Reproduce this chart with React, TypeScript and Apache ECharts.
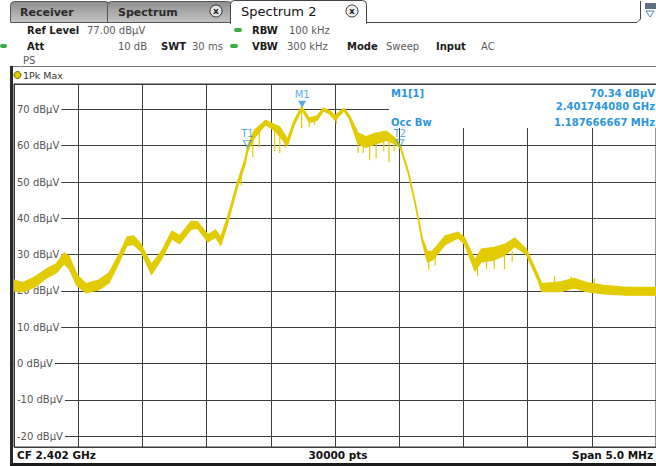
import React, { useEffect, useRef } from 'react';
import * as echarts from 'echarts';

// Frequency axis in MHz (CF 2.402 GHz, span 5 MHz)
const FREQ_MHZ = [
  2399.50, 2399.57, 2399.66, 2399.75, 2399.83, 2399.89, 2399.93, 2399.99, 2400.06, 2400.16,
  2400.24, 2400.32, 2400.38, 2400.43, 2400.49, 2400.57, 2400.65, 2400.73, 2400.79, 2400.88,
  2400.93, 2401.01, 2401.07, 2401.11, 2401.16, 2401.24, 2401.30, 2401.32, 2401.37, 2401.46,
  2401.53, 2401.57, 2401.63, 2401.68, 2401.74, 2401.80, 2401.86, 2401.91, 2401.96, 2402.00,
  2402.07, 2402.11, 2402.18, 2402.24, 2402.32, 2402.40, 2402.47, 2402.51, 2402.57, 2402.63,
  2402.68, 2402.72, 2402.76, 2402.86, 2402.96, 2403.01, 2403.09, 2403.14, 2403.24, 2403.32,
  2403.40, 2403.49, 2403.58, 2403.61, 2403.76, 2403.86, 2403.96, 2404.09, 2404.27, 2404.50,
];
// Upper envelope of the 1Pk Max trace (dBµV)
const TRACE_HI = [
  23.0, 22.3, 23.8, 26.0, 27.5, 30.5, 29.5, 24.5, 22.0, 23.0,
  25.0, 30.2, 34.8, 35.2, 32.8, 27.3, 31.0, 36.5, 35.2, 39.2,
  39.0, 35.5, 36.8, 34.8, 40.0, 50.0, 56.5, 60.0, 64.2, 67.0,
  65.8, 65.2, 61.8, 66.8, 70.8, 67.6, 68.2, 70.4, 69.6, 68.3,
  70.3, 68.5, 63.5, 62.5, 63.5, 64.0, 62.0, 60.0, 53.2, 43.6,
  34.6, 30.8, 31.0, 35.2, 36.2, 34.6, 28.5, 31.5, 32.0, 32.8,
  34.6, 31.5, 24.5, 22.0, 22.5, 23.5, 22.3, 21.5, 21.0, 21.0,
];
// Lower envelope of the trace (dBµV)
const TRACE_LO = [
  20.0, 19.8, 21.0, 23.5, 25.0, 27.5, 26.0, 21.5, 19.5, 20.3,
  22.2, 28.0, 32.5, 32.8, 30.8, 24.5, 28.8, 34.3, 33.0, 37.0,
  37.2, 33.5, 34.8, 32.5, 38.0, 48.5, 54.8, 58.5, 62.0, 65.8,
  64.2, 62.5, 60.0, 65.5, 70.0, 66.4, 67.0, 69.6, 68.7, 67.0,
  69.6, 67.5, 60.5, 59.5, 60.5, 61.5, 60.5, 59.2, 52.4, 42.8,
  33.4, 28.0, 28.5, 32.8, 34.6, 32.8, 25.5, 28.0, 28.5, 29.8,
  32.2, 30.0, 23.0, 19.8, 19.8, 20.8, 19.8, 19.2, 18.8, 18.8,
];
// Noise spikes
const SPIKE_FREQ = [
  2401.27, 2401.36, 2401.41, 2401.53, 2401.57, 2401.61, 2401.74, 2401.80, 2401.84, 2402.01,
  2402.18, 2402.22, 2402.27, 2402.32, 2402.38, 2402.42, 2402.46, 2402.73, 2402.78, 2403.11,
  2403.18, 2403.24, 2403.32, 2403.38, 2403.71, 2403.84, 2404.02,
];
const SPIKE_TOP = [
  53, 62, 64, 65, 64, 62, 70, 67, 67.5, 68,
  62, 62, 61, 62, 63, 63, 62, 29, 29.5, 27,
  29, 29, 30, 31, 24, 24, 23.5,
];
const SPIKE_BOTTOM = [
  49, 56.8, 59.5, 58.5, 58.0, 59.5, 64.8, 65, 65.8, 66,
  58, 58, 56, 56.5, 58.5, 55.5, 58.5, 25.8, 27, 24,
  26, 26, 26, 28, 20, 21, 20,
];
// Markers
const MARKER_NAMES = ['M1', 'T1', 'T2'];
const MARKER_FREQ = [2401.744, 2401.318, 2402.506];
const MARKER_LEVEL = [70.34, 59.4, 59.6];

const Y_MIN = -23;
const Y_MAX = 77;
const X_MIN = 2399.5;
const X_MAX = 2404.5;

const YELLOW = '#e2cb00';
const BLUE = '#2a96dc';
const FONT = '"DejaVu Sans", Verdana, sans-serif';

function txt(x: number, y: number, text: string, font: string, fill: string, align = 'left', z = 20) {
  return {
    type: 'text', x, y, z, silent: true,
    style: { text, font, fill, textAlign: align, textVerticalAlign: 'middle' },
  };
}

export default function App() {
  const ref = useRef<HTMLDivElement>(null);
  useEffect(() => {
    if (!ref.current) return;
    const chart = echarts.init(ref.current, undefined, { renderer: 'svg' });

    const bold10 = `bold 10px ${FONT}`;
    const norm10 = `10px ${FONT}`;

    const graphics: any[] = [
      // ---- tab strip ----
      {
        type: 'rect', z: 20, shape: { x: 10.5, y: 1.5, width: 99, height: 21, r: [4, 4, 0, 0] },
        style: {
          fill: new echarts.graphic.LinearGradient(0, 0, 0, 1, [
            { offset: 0, color: '#8e8e8e' }, { offset: 1, color: '#c4c4c4' },
          ]), stroke: '#555', lineWidth: 1,
        },
      },
      {
        type: 'rect', z: 21, shape: { x: 107.5, y: 1.5, width: 124, height: 21, r: [4, 4, 0, 0] },
        style: {
          fill: new echarts.graphic.LinearGradient(0, 0, 0, 1, [
            { offset: 0, color: '#8e8e8e' }, { offset: 1, color: '#c4c4c4' },
          ]), stroke: '#555', lineWidth: 1,
        },
      },
      {
        type: 'rect', z: 22, shape: { x: 230.5, y: 0.5, width: 136, height: 23, r: [4, 4, 0, 0] },
        style: { fill: '#ffffff', stroke: '#444', lineWidth: 1 },
      },
      { type: 'rect', z: 23, shape: { x: 231, y: 21, width: 135, height: 4 }, style: { fill: '#ffffff' } },
      {
        type: 'polyline', z: 22,
        shape: { points: [[366.5, 22.5], [637, 22.5], [640.5, 19], [640.5, 1]] },
        style: { stroke: '#444', lineWidth: 1, fill: 'none' },
      },
      txt(20, 12, 'Receiver', `bold 11px ${FONT}`, '#2b2b2b', 'left', 25),
      txt(118, 12, 'Spectrum', `bold 11px ${FONT}`, '#2b2b2b', 'left', 25),
      txt(241, 11, 'Spectrum 2', `13px ${FONT}`, '#111', 'left', 25),
      { type: 'circle', z: 25, shape: { cx: 216, cy: 11, r: 6 }, style: { fill: '#e4e4e4', stroke: '#333', lineWidth: 1 } },
      txt(216, 11, 'x', `bold 9px ${FONT}`, '#222', 'center', 26),
      { type: 'circle', z: 25, shape: { cx: 352, cy: 11, r: 6 }, style: { fill: '#f2f2f2', stroke: '#333', lineWidth: 1 } },
      txt(352, 11, 'x', `bold 9px ${FONT}`, '#222', 'center', 26),
      { type: 'rect', z: 25, shape: { x: 645, y: 3, width: 11, height: 6 }, style: { fill: '#5e6f82' } },
      { type: 'polygon', z: 25, shape: { points: [[646, 11], [654, 11], [650, 17]] }, style: { fill: 'none', stroke: '#4a7fb0', lineWidth: 1 } },

      // ---- header ----
      txt(27, 30, 'Ref Level', bold10, '#1a1a1a'),
      txt(87, 30, '77.00 dBµV', norm10, '#5a5a5a'),
      { type: 'rect', z: 20, shape: { x: 234, y: 28, width: 8, height: 4, r: 2 }, style: { fill: '#3bab45' } },
      txt(252, 30, 'RBW', bold10, '#1a1a1a'),
      txt(289, 30, '100 kHz', norm10, '#5a5a5a'),
      { type: 'rect', z: 20, shape: { x: 0, y: 44, width: 7, height: 4, r: 2 }, style: { fill: '#3bab45' } },
      txt(27, 46, 'Att', bold10, '#1a1a1a'),
      txt(147, 46, '10 dB', norm10, '#5a5a5a', 'right'),
      txt(161, 46, 'SWT', bold10, '#1a1a1a'),
      txt(192, 46, '30 ms', norm10, '#5a5a5a'),
      { type: 'rect', z: 20, shape: { x: 230, y: 44, width: 8, height: 4, r: 2 }, style: { fill: '#3bab45' } },
      txt(252, 46, 'VBW', bold10, '#1a1a1a'),
      txt(287, 46, '300 kHz', norm10, '#5a5a5a'),
      txt(347, 46, 'Mode', bold10, '#1a1a1a'),
      txt(386, 46, 'Sweep', norm10, '#5a5a5a'),
      txt(436, 46, 'Input', bold10, '#1a1a1a'),
      txt(481, 46, 'AC', norm10, '#5a5a5a'),
      txt(23, 60, 'PS', norm10, '#5a5a5a'),

      // ---- trace label row ----
      { type: 'line', z: 20, shape: { x1: 11, y1: 66.5, x2: 656, y2: 66.5 }, style: { stroke: '#777', lineWidth: 1 } },
      { type: 'circle', z: 21, shape: { cx: 17.5, cy: 75, r: 3.5 }, style: { fill: YELLOW, stroke: '#6b6000', lineWidth: 1 } },
      txt(23, 75, '1Pk Max', `9.5px ${FONT}`, '#333'),

      // ---- frame edges ----
      { type: 'rect', z: 60, shape: { x: 10, y: 66, width: 3, height: 400 }, style: { fill: '#2a2a2a' } },
      { type: 'rect', z: 60, shape: { x: 10, y: 463, width: 646, height: 3 }, style: { fill: '#1a1a1a' } },

      // ---- footer ----
      txt(17, 455, 'CF 2.402 GHz', `bold 10.5px ${FONT}`, '#111'),
      txt(338, 455, '30000 pts', `bold 10.5px ${FONT}`, '#111', 'center'),
      txt(653, 455, 'Span 5.0 MHz', `bold 10.5px ${FONT}`, '#111', 'right'),

      // ---- marker info box ----
      { type: 'rect', z: 50, shape: { x: 389, y: 85, width: 267, height: 43 }, style: { fill: '#ffffff' } },
      txt(391, 93, 'M1[1]', `bold 10px ${FONT}`, BLUE, 'left', 51),
      txt(655, 93, '70.34 dBµV', `bold 10px ${FONT}`, BLUE, 'right', 51),
      txt(655, 106, '2.401744080 GHz', `bold 10px ${FONT}`, BLUE, 'right', 51),
      txt(391, 122, 'Occ Bw', `bold 10px ${FONT}`, BLUE, 'left', 51),
      txt(655, 122, '1.187666667 MHz', `bold 10px ${FONT}`, BLUE, 'right', 51),
    ];

    const option: any = {
      animation: false,
      backgroundColor: '#ffffff',
      grid: {
        left: 14, top: 84, width: 649, height: 363,
        show: true, borderColor: '#333', borderWidth: 1, backgroundColor: 'transparent',
      },
      xAxis: {
        type: 'value', min: X_MIN, max: X_MAX, interval: 0.5,
        axisLabel: { show: false }, axisTick: { show: false },
        axisLine: { show: true, lineStyle: { color: '#333', width: 1 } },
        splitLine: { show: true, lineStyle: { color: '#3d3d3d', width: 1 } },
      },
      yAxis: {
        type: 'value', min: Y_MIN, max: Y_MAX, splitNumber: 10, minInterval: 10, maxInterval: 10,
        axisTick: { show: false },
        axisLine: { show: true, lineStyle: { color: '#333', width: 1 } },
        splitLine: { show: true, lineStyle: { color: '#3d3d3d', width: 1 } },
        axisLabel: {
          inside: true, margin: 1, showMinLabel: false, showMaxLabel: false,
          formatter: (v: number) => (Math.abs(v % 10) < 1e-6 ? `${v} dBµV` : ''),
          color: '#555', fontSize: 10, fontFamily: FONT,
          backgroundColor: '#ffffff', padding: [1, 2, 1, 2],
        },
      },
      graphic: { elements: graphics },
      series: [
        {
          type: 'custom', name: 'trace', clip: true, z: 3,
          data: [[FREQ_MHZ[0], TRACE_HI[0]]],
          renderItem: (params: any, api: any) => {
            const top = FREQ_MHZ.map((f, i) => api.coord([f, TRACE_HI[i]]));
            const bottom = FREQ_MHZ.map((f, i) => api.coord([f, TRACE_LO[i]])).reverse();
            return {
              type: 'polygon',
              shape: { points: top.concat(bottom) },
              style: { fill: YELLOW, stroke: YELLOW, lineWidth: 1.2, lineJoin: 'round' },
            };
          },
        },
        {
          type: 'custom', name: 'spikes', clip: true, z: 3,
          data: SPIKE_FREQ.map((f, i) => [f, SPIKE_TOP[i], SPIKE_BOTTOM[i]]),
          encode: { x: 0, y: [1, 2] },
          renderItem: (params: any, api: any) => {
            const p1 = api.coord([api.value(0), api.value(1)]);
            const p2 = api.coord([api.value(0), api.value(2)]);
            return {
              type: 'line',
              shape: { x1: p1[0], y1: p1[1], x2: p2[0], y2: p2[1] },
              style: { stroke: YELLOW, lineWidth: 1.2 },
            };
          },
        },
        {
          type: 'scatter', name: 'markers', z: 10,
          symbol: 'triangle', symbolRotate: 180, symbolSize: [8, 7], symbolOffset: [0, -4],
          data: MARKER_NAMES.map((n, i) => ({
            name: n,
            value: [MARKER_FREQ[i], MARKER_LEVEL[i]],
            itemStyle: n === 'M1'
              ? { color: BLUE, borderColor: BLUE, borderWidth: 0 }
              : { color: 'rgba(255,255,255,0)', borderColor: BLUE, borderWidth: 1 },
          })),
          label: {
            show: true, position: 'top', distance: 1, formatter: '{b}',
            color: BLUE, fontSize: 10, fontFamily: FONT,
          },
        },
      ],
    };
    chart.setOption(option);
    return () => chart.dispose();
  }, []);

  return (
    <div
      ref={ref}
      style={{ position: 'fixed', left: 0, top: 0, width: 656, height: 466, background: '#fff' }}
    />
  );
}
